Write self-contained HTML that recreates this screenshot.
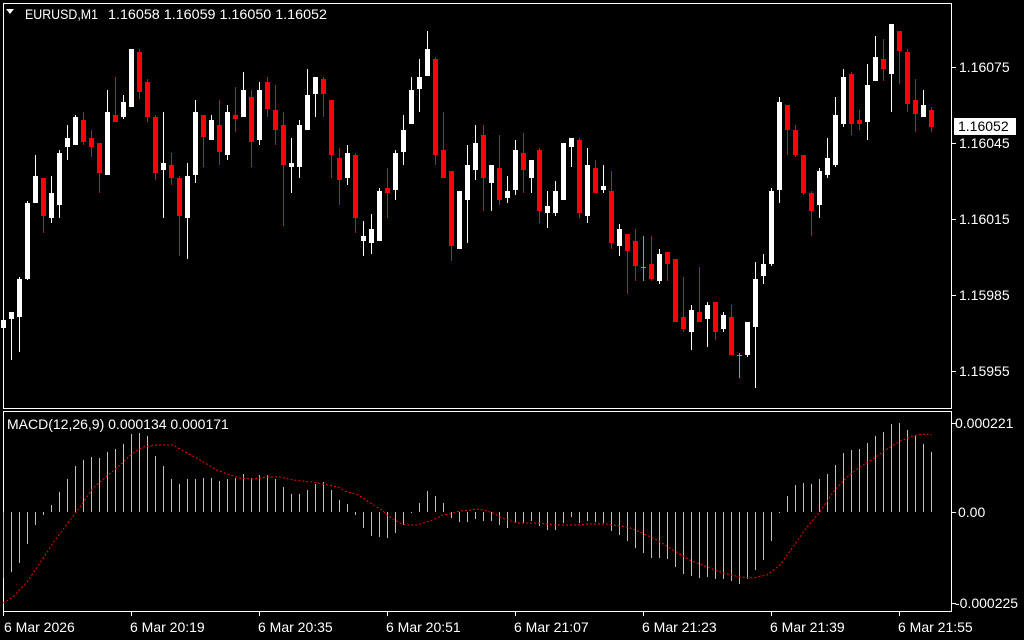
<!DOCTYPE html>
<html><head><meta charset="utf-8"><style>
html,body{margin:0;padding:0;background:#000;}
svg{display:block;font-family:"Liberation Sans",sans-serif;}
</style></head><body>
<svg id="s" width="1024" height="640" viewBox="0 0 1024 640" xmlns="http://www.w3.org/2000/svg">
<rect width="1024" height="640" fill="#000"/>
<rect x="3.5" y="3.5" width="948" height="405" fill="none" stroke="#fff" stroke-width="1"/>
<rect x="3.5" y="411.5" width="948" height="200" fill="none" stroke="#fff" stroke-width="1"/>
<g id="g"></g>
<polygon points="6,9 14,9 10,14" fill="#fff"/>
<g font-size="14" fill="#fff">
<text x="25" y="19" textLength="73" lengthAdjust="spacingAndGlyphs">EURUSD,M1</text>
<text x="108" y="19" textLength="219" lengthAdjust="spacingAndGlyphs">1.16058 1.16059 1.16050 1.16052</text>
<text x="7" y="429">MACD(12,26,9) 0.000134 0.000171</text>
<text x="959" y="72">1.16075</text>
<text x="959" y="148">1.16045</text>
<text x="959" y="224">1.16015</text>
<text x="959" y="300">1.15985</text>
<text x="959" y="376">1.15955</text>
<text x="955" y="428">0.000221</text>
<text x="958" y="517">0.00</text>
<text x="955" y="608">-0.000225</text>
<text x="4" y="632">6 Mar 2026</text>
<text x="130" y="632">6 Mar 20:19</text>
<text x="258" y="632">6 Mar 20:35</text>
<text x="386" y="632">6 Mar 20:51</text>
<text x="514" y="632">6 Mar 21:07</text>
<text x="642" y="632">6 Mar 21:23</text>
<text x="770" y="632">6 Mar 21:39</text>
<text x="898" y="632">6 Mar 21:55</text>
</g>
<rect x="954" y="118" width="62" height="17" fill="#fff"/>
<text x="958" y="131" font-size="14" fill="#000">1.16052</text>
</svg>
<script>
var C=[
['w',320,327,310,345],['w',312,318,312,359],['w',279,316,277,351],['w',203,278,201,279],['w',176,202,155,202],
['r',178,215,178,232],['w',193,217,176,222],['w',153,204,150,217],['w',138,146,125,159],['w',117,144,115,144],
['r',120,141,112,144],['r',138,146,130,156],['r',143,172,143,192],['w',112,174,90,174],['r',115,121,77,121],
['w',102,116,95,118],['w',49,106,49,106],['r',52,91,49,98],['r',82,116,79,121],['r',117,172,115,179],
['w',163,169,112,217],['r',165,177,153,184],['r',178,215,176,255],['w',176,217,163,258],['w',112,174,100,182],
['r',115,136,115,166],['w',120,139,115,139],['r',125,151,100,164],['w',112,154,105,159],['r',115,118,87,131],
['w',90,116,72,116],['r',97,141,90,166],['w',90,139,82,144],['r',82,108,77,116],['r',110,129,85,144],
['r',125,164,112,225],['w',163,166,138,192],['w',125,166,120,177],['w',95,129,69,129],['w',77,93,77,116],
['r',79,93,77,116],['r',100,154,100,177],['r',158,179,148,204],['w',153,177,145,184],['r',155,217,153,232],
['w',236,240,221,255],['w',229,242,214,253],['w',191,240,188,240],['r',188,192,168,217],['w',153,189,150,199],
['w',130,151,115,164],['w',90,123,77,123],['w',77,88,59,111],['w',49,75,31,75],['r',59,154,57,164],
['r',150,177,112,177],['r',171,245,171,260],['w',191,248,191,248],['w',165,199,145,242],['w',143,169,125,179],
['r',135,177,125,210],['w',165,182,165,210],['r',168,199,135,204],['w',191,197,176,202],['w',150,189,140,194],
['r',153,169,133,192],['w',160,177,160,192],['r',150,210,148,222],['w',206,212,191,227],['w',191,212,181,215],
['w',143,199,143,199],['w',138,146,138,166],['r',140,212,138,217],['w',165,215,148,222],['r',168,192,160,192],
['w',186,189,165,192],['r',191,242,171,248],['w',229,245,224,255],['r',234,250,234,293],['r',241,265,229,280],
['g',267,267,236,280],['r',264,278,236,280],['w',254,280,249,283],['r',252,263,252,280],['r',259,321,259,321],
['r',317,328,277,331],['w',310,331,305,349],['r',312,321,267,321],['w',305,318,302,346],['r',302,331,302,339],
['w',315,328,312,331],['r',317,354,305,354],['g',355,355,353,377],['w',322,354,322,356],['w',279,326,262,387],
['w',264,275,254,283],['w',191,263,188,265],['w',102,189,97,202],['r',105,129,105,154],['r',130,154,125,156],
['r',155,192,155,194],['r',193,210,191,235],['w',171,204,168,217],['w',158,174,138,177],['w',115,164,97,166],
['w',77,123,69,126],['r',74,123,72,134],['r',120,123,110,129],['w',85,121,64,139],['w',57,80,36,80],
['r',59,68,39,80],['w',24,73,24,111],['r',31,50,31,83],['r',52,103,49,111],['r',100,113,79,131],
['w',105,116,90,116],['r',110,126,107,131]];
var H=[578,572,563,544,525,515,505,492,479,466,460,457,458,452,449,444,434,433,436,456,466,479,484,479,479,478,478,481,479,478,474,478,475,475,479,487,494,494,490,484,482,490,500,504,515,528,536,537,538,533,525,513,503,491,496,503,518,522,522,519,521,521,525,528,523,523,521,526,530,530,523,517,523,521,522,523,531,535,541,548,553,558,558,559,567,574,576,578,577,579,579,581,584,579,570,560,541,512,496,485,483,484,479,474,465,453,450,449,443,436,432,424,423,430,436,444,452];
var S=[[3,603],[13,597],[27,582],[40,563],[53,543],[67,524],[80,507],[93,488],[107,476],[120,465],[133,453],[143,447],[157,445],[173,445],[187,453],[200,460],[217,470],[227,474],[240,478],[253,479],[267,477],[280,477],[293,480],[313,482],[333,486],[340,488],[345,491],[352,493],[358,495],[363,498],[369,502],[375,506],[382,510],[387,515],[393,519],[400,523],[407,525],[417,525],[423,523],[430,521],[437,518],[443,515],[450,514],[460,511],[470,510],[478,509],[487,511],[493,513],[500,517],[508,520],[517,523],[527,523],[537,523],[547,524],[557,525],[567,525],[577,525],[587,524],[597,524],[607,524],[613,525],[620,526],[627,527],[633,529],[640,532],[657,540],[673,550],[690,560],[707,567],[723,573],[740,577],[753,578],[767,575],[780,565],[793,547],[807,527],[820,512],[833,492],[847,477],[860,467],[873,459],[887,449],[900,441],[913,436],[923,434],[932,435]];
var o='';
for(var i=0;i<C.length;i++){var c=C[i],x=3+8*i,col=c[0]=='w'?'#fff':(c[0]=='r'?'#f00':'#0f0');
o+='<rect x="'+x+'" y="'+c[3]+'" width="1" height="'+Math.max(1,c[4]-c[3]+1)+'" fill="'+col+'"/>';
if(c[0]=='g')o+='<rect x="'+(x-2)+'" y="'+c[1]+'" width="5" height="1" fill="#0f0"/>';
else o+='<rect x="'+(x-2)+'" y="'+c[1]+'" width="5" height="'+Math.max(1,c[2]-c[1]+1)+'" fill="'+col+'"/>';}
for(var i=0;i<H.length;i++){var x=3+8*i,y=H[i],t=Math.min(y,512),h=Math.max(1,Math.abs(y-512));
o+='<rect x="'+x+'" y="'+t+'" width="1" height="'+h+'" fill="#c0c0c0"/>';}
o+='<polyline points="'+S.map(function(p){return p.join(',')}).join(' ')+'" fill="none" stroke="#f00" stroke-width="1" stroke-dasharray="2,2"/>';
var tk=[67,143,219,295,371];tk.forEach(function(y){o+='<rect x="952" y="'+y+'" width="4" height="1" fill="#fff"/>';});
[423,512,603].forEach(function(y){o+='<rect x="952" y="'+y+'" width="4" height="1" fill="#fff"/>';});
for(var k=0;k<8;k++){o+='<rect x="'+(3+128*k)+'" y="612" width="1" height="4" fill="#fff"/>';}
document.getElementById('g').innerHTML=o;
</script>
</body></html>
